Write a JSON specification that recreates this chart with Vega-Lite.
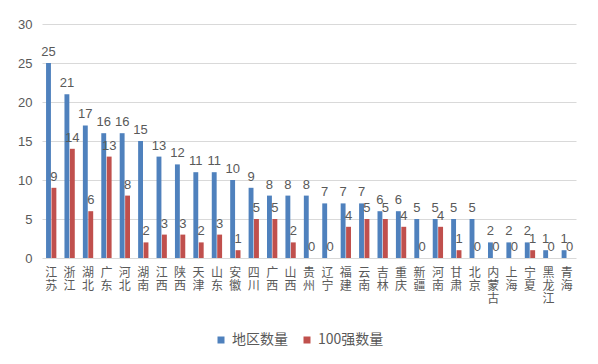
{
  "$schema": "https://vega.github.io/schema/vega-lite/v6.json",
  "autosize": "none",
  "width": 534,
  "height": 234,
  "padding": {"left": 42, "top": 24, "right": 22, "bottom": 106},
  "background": "white",
  "config": {
    "view": {"stroke": null},
    "font": "Noto Sans CJK SC",
    "text": {"font": "Noto Sans CJK SC"}
  },
  "data": {
    "values": [
      {"region": "江苏", "series": "地区数量", "value": 25}, {"region": "江苏", "series": "100强数量", "value": 9},
      {"region": "浙江", "series": "地区数量", "value": 21}, {"region": "浙江", "series": "100强数量", "value": 14},
      {"region": "湖北", "series": "地区数量", "value": 17}, {"region": "湖北", "series": "100强数量", "value": 6},
      {"region": "广东", "series": "地区数量", "value": 16}, {"region": "广东", "series": "100强数量", "value": 13},
      {"region": "河北", "series": "地区数量", "value": 16}, {"region": "河北", "series": "100强数量", "value": 8},
      {"region": "湖南", "series": "地区数量", "value": 15}, {"region": "湖南", "series": "100强数量", "value": 2},
      {"region": "江西", "series": "地区数量", "value": 13}, {"region": "江西", "series": "100强数量", "value": 3},
      {"region": "陕西", "series": "地区数量", "value": 12}, {"region": "陕西", "series": "100强数量", "value": 3},
      {"region": "天津", "series": "地区数量", "value": 11}, {"region": "天津", "series": "100强数量", "value": 2},
      {"region": "山东", "series": "地区数量", "value": 11}, {"region": "山东", "series": "100强数量", "value": 3},
      {"region": "安徽", "series": "地区数量", "value": 10}, {"region": "安徽", "series": "100强数量", "value": 1},
      {"region": "四川", "series": "地区数量", "value": 9}, {"region": "四川", "series": "100强数量", "value": 5},
      {"region": "广西", "series": "地区数量", "value": 8}, {"region": "广西", "series": "100强数量", "value": 5},
      {"region": "山西", "series": "地区数量", "value": 8}, {"region": "山西", "series": "100强数量", "value": 2},
      {"region": "贵州", "series": "地区数量", "value": 8}, {"region": "贵州", "series": "100强数量", "value": 0},
      {"region": "辽宁", "series": "地区数量", "value": 7}, {"region": "辽宁", "series": "100强数量", "value": 0},
      {"region": "福建", "series": "地区数量", "value": 7}, {"region": "福建", "series": "100强数量", "value": 4},
      {"region": "云南", "series": "地区数量", "value": 7}, {"region": "云南", "series": "100强数量", "value": 5},
      {"region": "吉林", "series": "地区数量", "value": 6}, {"region": "吉林", "series": "100强数量", "value": 5},
      {"region": "重庆", "series": "地区数量", "value": 6}, {"region": "重庆", "series": "100强数量", "value": 4},
      {"region": "新疆", "series": "地区数量", "value": 5}, {"region": "新疆", "series": "100强数量", "value": 0},
      {"region": "河南", "series": "地区数量", "value": 5}, {"region": "河南", "series": "100强数量", "value": 4},
      {"region": "甘肃", "series": "地区数量", "value": 5}, {"region": "甘肃", "series": "100强数量", "value": 1},
      {"region": "北京", "series": "地区数量", "value": 5}, {"region": "北京", "series": "100强数量", "value": 0},
      {"region": "内蒙古", "series": "地区数量", "value": 2}, {"region": "内蒙古", "series": "100强数量", "value": 0},
      {"region": "上海", "series": "地区数量", "value": 2}, {"region": "上海", "series": "100强数量", "value": 0},
      {"region": "宁夏", "series": "地区数量", "value": 2}, {"region": "宁夏", "series": "100强数量", "value": 1},
      {"region": "黑龙江", "series": "地区数量", "value": 1}, {"region": "黑龙江", "series": "100强数量", "value": 0},
      {"region": "青海", "series": "地区数量", "value": 1}, {"region": "青海", "series": "100强数量", "value": 0}
    ]
  },
  "encoding": {
    "x": {
      "field": "region",
      "type": "nominal",
      "sort": null,
      "title": null,
      "scale": {"paddingInner": 0.44, "paddingOuter": 0.22},
      "axis": {
        "domain": false,
        "ticks": false,
        "labelAngle": 0,
        "labelExpr": "split(datum.value, '')",
        "labelBaseline": "top",
        "labelLineHeight": 13,
        "labelFontSize": 12,
        "labelColor": "#595959",
        "labelPadding": 9
      }
    },
    "xOffset": {
      "field": "series",
      "type": "nominal",
      "scale": {"domain": ["地区数量", "100强数量"], "paddingInner": 0.1}
    },
    "y": {
      "field": "value",
      "type": "quantitative",
      "title": null,
      "scale": {"domain": [0, 30]},
      "axis": {
        "values": [0, 5, 10, 15, 20, 25, 30],
        "domain": false,
        "ticks": false,
        "gridColor": "#d9d9d9",
        "gridWidth": 1.2,
        "labelColor": "#595959",
        "labelFontSize": 13,
        "labelPadding": 10,
        "labelFont": "Liberation Sans"
      }
    }
  },
  "layer": [
    {
      "mark": {"type": "bar"},
      "encoding": {
        "color": {
          "field": "series",
          "type": "nominal",
          "scale": {"domain": ["地区数量", "100强数量"], "range": ["#4F81BD", "#C0504D"]},
          "legend": {
            "title": null,
            "orient": "none",
            "direction": "horizontal",
            "legendX": 172,
            "legendY": 309,
            "symbolType": "square",
            "symbolSize": 49,
            "symbolStrokeWidth": 0,
            "labelFontSize": 14,
            "labelColor": "#595959",
            "columnPadding": 12,
            "labelOffset": 4
          }
        }
      }
    },
    {
      "mark": {"type": "text", "baseline": "bottom", "dy": -4, "fontSize": 13, "color": "#595959", "font": "Liberation Sans"},
      "encoding": {"text": {"field": "value", "type": "quantitative"}}
    }
  ]
}
